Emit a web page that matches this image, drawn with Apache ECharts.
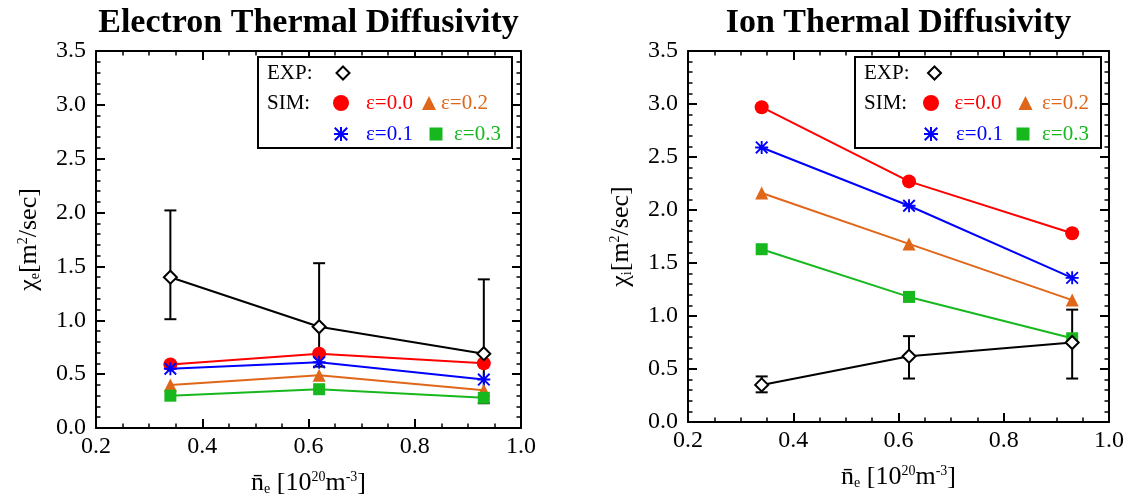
<!DOCTYPE html>
<html><head><meta charset="utf-8">
<script src="https://cdn.jsdelivr.net/npm/echarts@6/dist/echarts.min.js"></script>
<style>html,body{margin:0;padding:0;background:#fff}#c{width:1132px;height:499px}</style>
</head><body><div id="c"></div>
<script>
// ---------- data ----------
const densities = [0.34, 0.62, 0.93];          // n_e [10^20 m^-3]
const xRange = [0.2, 1.0];
const yRange = [0.0, 3.5];

// Electron thermal diffusivity
const eExp      = [1.40, 0.94, 0.69];
const eExpLow   = [1.01, 0.57, 0.23];
const eExpHigh  = [2.02, 1.53, 1.38];
const eSim00    = [0.59, 0.69, 0.60];
const eSim01    = [0.55, 0.61, 0.45];
const eSim02    = [0.40, 0.49, 0.35];
const eSim03    = [0.30, 0.36, 0.28];

// Ion thermal diffusivity
const iExp      = [0.35, 0.62, 0.75];
const iExpLow   = [0.28, 0.41, 0.41];
const iExpHigh  = [0.43, 0.81, 1.06];
const iSim00    = [2.97, 2.27, 1.78];
const iSim01    = [2.59, 2.04, 1.36];
const iSim02    = [2.16, 1.68, 1.15];
const iSim03    = [1.63, 1.18, 0.79];

const titles = ['Electron Thermal Diffusivity', 'Ion Thermal Diffusivity'];
const simNames = ['ε=0.0', 'ε=0.1', 'ε=0.2', 'ε=0.3'];

// ---------- styles ----------
const FONT = '"Liberation Serif", "Times New Roman", serif';
const RED = '#ff0000', BLUE = '#0000ff', ORANGE = '#e0661a', GREEN = '#17b81d';
const ASTER = 'path://M1 8.7L19 8.7L19 11.3L1 11.3Z M8.7 1L11.3 1L11.3 19L8.7 19Z M1.08 2.92L2.92 1.08L18.92 17.08L17.08 18.92Z M17.08 1.08L18.92 2.92L2.92 18.92L1.08 17.08Z';
const simStyle = [
  {color: RED, symbol: 'circle', size: 14},
  {color: BLUE, symbol: ASTER, size: 13},
  {color: ORANGE, symbol: 'triangle', size: 13},
  {color: GREEN, symbol: 'rect', size: 12}
];

const pts = arr => densities.map((x, i) => [x, arr[i]]);
const errs = (lo, hi) => densities.map((x, i) => [x, lo[i], hi[i]]);

function lineSeries(name, vals, st, xi, yi) {
  return {
    type: 'line', name, xAxisIndex: xi, yAxisIndex: yi, data: pts(vals),
    symbol: st.symbol, symbolSize: st.size, showSymbol: true,
    lineStyle: {color: st.color, width: 2},
    itemStyle: {color: st.color, borderWidth: 0},
    animation: false, silent: true
  };
}
function expSeries(vals, xi, yi) {
  return {
    type: 'line', name: 'EXP', xAxisIndex: xi, yAxisIndex: yi, data: pts(vals),
    symbol: 'emptyDiamond', symbolSize: 13,
    lineStyle: {color: '#000', width: 2},
    itemStyle: {color: '#000', borderWidth: 2},
    animation: false, silent: true
  };
}
function errSeries(lo, hi, xi, yi) {
  return {
    type: 'custom', xAxisIndex: xi, yAxisIndex: yi, data: errs(lo, hi),
    encode: {x: 0, y: [1, 2]}, animation: false, silent: true,
    renderItem(params, api) {
      const x = api.value(0);
      const a = api.coord([x, api.value(1)]);
      const b = api.coord([x, api.value(2)]);
      const w = 6;
      const st = {stroke: '#000', lineWidth: 2};
      return {type: 'group', children: [
        {type: 'line', shape: {x1: a[0], y1: a[1], x2: b[0], y2: b[1]}, style: st},
        {type: 'line', shape: {x1: a[0] - w, y1: a[1], x2: a[0] + w, y2: a[1]}, style: st},
        {type: 'line', shape: {x1: b[0] - w, y1: b[1], x2: b[0] + w, y2: b[1]}, style: st}
      ]};
    }
  };
}

const tickLbl = {fontFamily: FONT, fontSize: 24, color: '#000'};
const tickFmt = v => v.toFixed(1);
const nameRich = {
  a: {fontFamily: FONT, fontSize: 26, color: '#000', lineHeight: 26},
  b: {fontFamily: FONT, fontSize: 14, color: '#000', verticalAlign: 'bottom', lineHeight: 14},
  c: {fontFamily: FONT, fontSize: 14, color: '#000', verticalAlign: 'top', lineHeight: 14}
};
function xAxes(g) {
  const base = {
    gridIndex: g, type: 'value', min: xRange[0], max: xRange[1], interval: 0.2,
    axisLine: {onZero: false, lineStyle: {color: '#000', width: 2}},
    axisTick: {inside: true, length: 9, lineStyle: {color: '#000', width: 2}},
    minorTick: {show: true, splitNumber: 4, length: 4.5, lineStyle: {color: '#000', width: 1.5}},
    splitLine: {show: false}, minorSplitLine: {show: false}
  };
  return [
    Object.assign({}, base, {
      position: 'bottom',
      axisLabel: Object.assign({margin: 7, formatter: tickFmt}, tickLbl),
      name: '{a|n\u0304}{b|e}{a| [10}{c|20}{a|m}{c|-3}{a|]}',
      nameLocation: 'middle', nameGap: 42, nameMoveOverlap: false,
      nameTextStyle: {fontFamily: FONT, rich: nameRich}
    }),
    Object.assign({}, base, {position: 'top', axisLabel: {show: false}})
  ];
}
function yAxes(g, sub) {
  const base = {
    gridIndex: g, type: 'value', min: yRange[0], max: yRange[1], interval: 0.5,
    axisLine: {onZero: false, lineStyle: {color: '#000', width: 2}},
    axisTick: {inside: true, length: 9, lineStyle: {color: '#000', width: 2}},
    minorTick: {show: true, splitNumber: 5, length: 4.5, lineStyle: {color: '#000', width: 1.5}},
    splitLine: {show: false}, minorSplitLine: {show: false}
  };
  return [
    Object.assign({}, base, {
      position: 'left',
      axisLabel: Object.assign({margin: 10, formatter: tickFmt}, tickLbl),
      name: '{a|χ}{b|' + sub + '}{a|[m}{c|2}{a|/sec]}',
      nameLocation: 'middle', nameGap: 54, nameMoveOverlap: false,
      nameTextStyle: {fontFamily: FONT, rich: nameRich}
    }),
    Object.assign({}, base, {position: 'right', axisLabel: {show: false}})
  ];
}

// legend item: icon centre c, text start t, row centre y, icon size s
function leg(name, c, t, rowC, s, icon, color) {
  const pad = t - (c + s / 2 + 5);
  return {
    data: [name], left: c - s / 2, top: rowC - 10.5, itemWidth: s, itemHeight: s, icon,
    padding: 0, selectedMode: false, z: 6,
    textStyle: {fontFamily: FONT, fontSize: 21, color, padding: [0, 0, 0, pad]}
  };
}
// "EXP:" label then icon centred at c
function legExp(textLeft, c, rowC, s) {
  const textW = 45.5;
  const pad = (c - s / 2) - 5 - (textLeft + textW);
  return {
    data: ['EXP'], left: textLeft, top: rowC - 10.5, itemWidth: s, itemHeight: s,
    icon: 'emptyDiamond', align: 'right', formatter: 'EXP:',
    padding: 0, selectedMode: false, z: 6,
    textStyle: {fontFamily: FONT, fontSize: 21, color: '#000', padding: [0, pad, 0, 0]}
  };
}
const R1 = 73, R2 = 103, R3 = 134;

const option = {
  backgroundColor: '#fff',
  animation: false,
  textStyle: {fontFamily: FONT},
  title: [
    {text: titles[0], left: 308.5, top: 6, textAlign: 'center', padding: 0,
     textStyle: {fontFamily: FONT, fontWeight: 'bold', fontSize: 34, color: '#000'}},
    {text: titles[1], left: 898.5, top: 6, textAlign: 'center', padding: 0,
     textStyle: {fontFamily: FONT, fontWeight: 'bold', fontSize: 34, color: '#000'}}
  ],
  grid: [
    {left: 96, top: 51, width: 425, height: 377, containLabel: false, outerBoundsMode: 'none'},
    {left: 688, top: 51, width: 421, height: 371, containLabel: false, outerBoundsMode: 'none'}
  ],
  xAxis: [...xAxes(0), ...xAxes(1)],
  yAxis: [...yAxes(0, 'e'), ...yAxes(1, 'i')],
  legend: [
    legExp(267, 343, R1, 13),
    leg(simNames[0], 341, 366, R2, 16, 'circle', RED),
    leg(simNames[2], 429, 441, R2, 14, 'triangle', ORANGE),
    leg(simNames[1], 341, 366, R3, 14, ASTER, BLUE),
    leg(simNames[3], 436, 454, R3, 13, 'rect', GREEN),
    legExp(864, 934.5, R1, 13),
    leg(simNames[0], 931, 954.5, R2, 16, 'circle', RED),
    leg(simNames[2], 1025.5, 1042, R2, 14, 'triangle', ORANGE),
    leg(simNames[1], 931, 956, R3, 14, ASTER, BLUE),
    leg(simNames[3], 1023, 1042, R3, 13, 'rect', GREEN)
  ],
  graphic: [
    {type: 'rect', shape: {x: 258, y: 57, width: 254, height: 91}, style: {fill: '#fff', stroke: '#000', lineWidth: 2}, z: 3},
    {type: 'text', x: 267, y: R2, style: {text: 'SIM:', font: '21px "Liberation Serif"', fill: '#000', verticalAlign: 'middle'}, z: 6},
    {type: 'rect', shape: {x: 855, y: 57, width: 246, height: 91}, style: {fill: '#fff', stroke: '#000', lineWidth: 2}, z: 3},
    {type: 'text', x: 864, y: R2, style: {text: 'SIM:', font: '21px "Liberation Serif"', fill: '#000', verticalAlign: 'middle'}, z: 6}
  ],
  series: [
    lineSeries(simNames[0], eSim00, simStyle[0], 0, 0),
    lineSeries(simNames[1], eSim01, simStyle[1], 0, 0),
    lineSeries(simNames[2], eSim02, simStyle[2], 0, 0),
    lineSeries(simNames[3], eSim03, simStyle[3], 0, 0),
    expSeries(eExp, 0, 0),
    errSeries(eExpLow, eExpHigh, 0, 0),
    lineSeries(simNames[0], iSim00, simStyle[0], 2, 2),
    lineSeries(simNames[1], iSim01, simStyle[1], 2, 2),
    lineSeries(simNames[2], iSim02, simStyle[2], 2, 2),
    lineSeries(simNames[3], iSim03, simStyle[3], 2, 2),
    expSeries(iExp, 2, 2),
    errSeries(iExpLow, iExpHigh, 2, 2)
  ]
};
const chart = echarts.init(document.getElementById('c'), null, {renderer: 'canvas'});
chart.setOption(option);
</script>
</body></html>
